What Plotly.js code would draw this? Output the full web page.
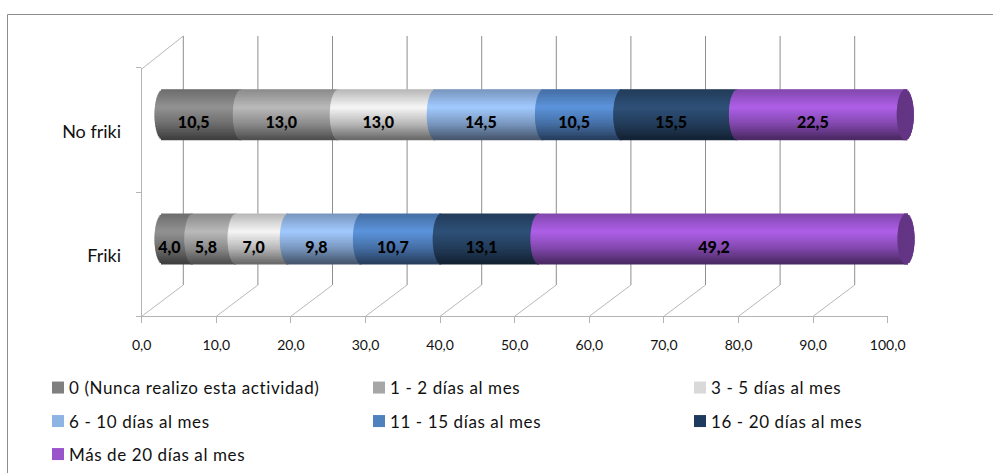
<!DOCTYPE html>
<html>
<head>
<meta charset="utf-8">
<script src="https://cdn.plot.ly/plotly-3.0.1.min.js"></script>
<style>html,body{margin:0;padding:0;background:#fff;}#chart{width:993px;height:473px;}
#chart .scrollbox text{letter-spacing:.6px !important;}
#chart .scrollbox{clip-path:none !important;}</style>
</head>
<body>
<div id="chart"></div>
<script>
// ---- data ----
var categories = ["Friki", "No friki"];
var seriesNames = ["0 (Nunca realizo esta actividad)", "1 - 2 días al mes", "3 - 5 días al mes",
                   "6 - 10 días al mes", "11 - 15 días al mes", "16 - 20 días al mes", "Más de 20 días al mes"];
var nunca   = [4.0, 10.5];
var d1a2    = [5.8, 13.0];
var d3a5    = [7.0, 13.0];
var d6a10   = [9.8, 14.5];
var d11a15  = [10.7, 10.5];
var d16a20  = [13.1, 15.5];
var mas20   = [49.2, 22.5];
var seriesValues = [nunca, d1a2, d3a5, d6a10, d11a15, d16a20, mas20];
var xTicks = [0, 10, 20, 30, 40, 50, 60, 70, 80, 90, 100];

// ---- style ----
var legendColors = ["#7f7f7f", "#a6a6a6", "#d9d9d9", "#8eb4e3", "#4f81bd", "#1f3a5f", "#9954cc"];
var peakColors = [[146,146,146], [186,186,186], [246,246,246], [162,202,255], [92,148,220], [46,80,120], [174,96,232]];
var capColor = "#643584";
var W = 993, H = 473;
var fontName = "Lato, Carlito, sans-serif";
var pxPerUnit = 7.46;
var axisLine = "#b4b4b4", gridLine = "#8e8e8e", diagLine = "#b8b8b8";
function fx(px) { return px / W; }
function fy(px) { return 1 - px / H; }

// cylinder shading as thin strips; each strip overlaps its neighbours by half a pixel
var N = 34, radiusPx = 25.5, unitY = 124.2;
var radius = (radiusPx - .5) / unitY, bandW = 2 * radius / N, drawnW = bandW + 1 / unitY;
var bowUnits = 8.5 / pxPerUnit;
function shade(t) {
  var s = [[0, .74], [.36, 1], [.7, .74], [1, .42]];
  for (var i = 1; i < s.length; i++) {
    if (t <= s[i][0]) {
      return s[i-1][1] + (s[i][1] - s[i-1][1]) * (t - s[i-1][0]) / (s[i][0] - s[i-1][0]);
    }
  }
  return .42;
}
function rgb(c, f) {
  return "rgb(" + c.map(function (v) { return Math.round(v * f); }).join(",") + ")";
}

var traces = [];
var starts = categories.map(function () { return 0; });
var cumul = [];
seriesValues.forEach(function (vals) {
  cumul.push(starts.slice());
  starts = starts.map(function (s, i) { return s + vals[i]; });
});
var totals = starts;

var legendIds = ["legend", "legend2", "legend3", "legend4", "legend5", "legend6", "legend7"];

// flat base bars (carry the legend)
seriesValues.forEach(function (vals, k) {
  traces.push({
    type: "bar", orientation: "h", xaxis: "x2", yaxis: "y2",
    name: seriesNames[k], legend: legendIds[k], showlegend: true,
    y: categories.map(function (c, i) { return i; }),
    x: vals, base: cumul[k], width: 2 * radius,
    marker: { color: legendColors[k], line: { width: 0 } },
    hoverinfo: "skip"
  });
});

// shading strips
seriesValues.forEach(function (vals, k) {
  var ys = [], xs = [], bs = [], cs = [];
  categories.forEach(function (c, i) {
    for (var b = 0; b < N; b++) {
      var yOff = radius - (b + .5) * bandW;
      var t = (b + .5) / N;
      var bow = bowUnits * Math.sqrt(1 - Math.pow(2 * t - 1, 2));
      ys.push(i + yOff);
      bs.push(cumul[k][i] - bow);
      xs.push(vals[i] + bow + (k === seriesValues.length - 1 ? bow : 0));
      cs.push(rgb(peakColors[k], shade(t)));
    }
  });
  traces.push({
    type: "bar", orientation: "h", xaxis: "x2", yaxis: "y2", showlegend: false,
    y: ys, x: xs, base: bs, width: drawnW,
    marker: { color: cs, line: { width: 0 } }, hoverinfo: "skip"
  });
});

// right end cap
(function () {
  var ys = [], xs = [], bs = [];
  categories.forEach(function (c, i) {
    for (var b = 0; b < N; b++) {
      var t = (b + .5) / N;
      var bow = bowUnits * Math.sqrt(1 - Math.pow(2 * t - 1, 2));
      ys.push(i + radius - (b + .5) * bandW);
      bs.push(totals[i] - bow);
      xs.push(2 * bow);
    }
  });
  traces.push({
    type: "bar", orientation: "h", xaxis: "x2", yaxis: "y2", showlegend: false,
    y: ys, x: xs, base: bs, width: drawnW,
    marker: { color: capColor, line: { width: 0 } }, hoverinfo: "skip"
  });
})();

// data labels, on top of everything
(function () {
  var ys = [], xs = [], bs = [], txt = [];
  seriesValues.forEach(function (vals, k) {
    categories.forEach(function (c, i) {
      ys.push(i - 7 / unitY);
      bs.push(cumul[k][i] - bowUnits);
      xs.push(vals[i]);
      txt.push(vals[i].toFixed(1).replace(".", ","));
    });
  });
  traces.push({
    type: "bar", orientation: "h", xaxis: "x2", yaxis: "y2", showlegend: false,
    y: ys, x: xs, base: bs, width: .2,
    text: txt, textposition: "inside", insidetextanchor: "middle", textangle: 0,
    constraintext: "none", cliponaxis: false,
    textfont: { family: fontName, size: 16, color: "#000", weight: 900 },
    marker: { color: "rgba(0,0,0,0)", line: { width: 0 } }, hoverinfo: "skip"
  });
})();

// walls: gridlines on the back plane and diagonals along the floor
var backDx = 41.6 / pxPerUnit;
var frontY = 316.3, backY = 285, wallTop = 36, frontTop = 69;
var shapes = [
  { type: "line", xref: "paper", yref: "paper", x0: fx(7.5), x1: 1, y0: fy(14.5), y1: fy(14.5), line: { color: "#8c8c8c", width: 1 } },
  { type: "line", xref: "paper", yref: "paper", x0: fx(7.5), x1: fx(7.5), y0: fy(14.5), y1: 0, line: { color: "#8c8c8c", width: 1 } },
  { type: "line", xref: "x", yref: "paper", x0: 0, x1: backDx, y0: fy(frontTop), y1: fy(wallTop), line: { color: diagLine, width: 1 }, layer: "below" }
];
xTicks.forEach(function (v) {
  shapes.push({ type: "line", xref: "x", yref: "paper", x0: v + backDx, x1: v + backDx, y0: fy(backY), y1: fy(wallTop), line: { color: gridLine, width: 1 }, layer: "below" });
  shapes.push({ type: "line", xref: "x", yref: "paper", x0: v, x1: v + backDx, y0: fy(frontY), y1: fy(backY), line: { color: diagLine, width: 1 }, layer: "below" });
});

function legendAt(textXPx, yPx) {
  return {
    orientation: "h", x: fx(textXPx - 40), xanchor: "left", y: fy(yPx), yanchor: "middle",
    traceorder: "normal", bgcolor: "rgba(0,0,0,0)", borderwidth: 0,
    font: { family: fontName, size: 17, color: "#111" }
  };
}

var xPad = 5; // extra room on the bar axis for the rounded ends
var layout = {
  width: W, height: H, margin: { l: 0, r: 0, t: 0, b: 0, pad: 0 },
  paper_bgcolor: "#fff", plot_bgcolor: "rgba(0,0,0,0)",
  barmode: "overlay", separators: ",.", hovermode: false, showlegend: true,
  font: { family: fontName, color: "#111" },
  xaxis: {
    domain: [fx(141.7), fx(887.7)], range: [0, 100], anchor: "y", showgrid: false, zeroline: false,
    tickmode: "array", tickvals: xTicks, tickformat: ".1f",
    showline: true, linecolor: axisLine, linewidth: 1,
    ticks: "outside", ticklen: 6, tickcolor: axisLine, ticklabelstandoff: 10,
    tickfont: { family: fontName, size: 14, color: "#111" }
  },
  yaxis: {
    domain: [fy(frontY), fy(frontY - 2 * unitY)], range: [-.5, 1.5], anchor: "x", showgrid: false, zeroline: false,
    tickmode: "array", tickvals: [-.01, .99], ticktext: categories, ticks: "", ticklabelstandoff: 16,
    minor: { tickmode: "array", tickvals: [-.5, .5, 1.5], ticks: "outside", ticklen: 5, tickcolor: axisLine, showgrid: false },
    showline: true, linecolor: axisLine, linewidth: 1,
    tickfont: { family: fontName, size: 18, color: "#111" }
  },
  xaxis2: { domain: [fx(163 - xPad * pxPerUnit), fx(163 + (100 + xPad) * pxPerUnit)], range: [-xPad, 100 + xPad], anchor: "y2", visible: false },
  yaxis2: { domain: [fy(301.1), fy(301.1 - 2 * unitY)], range: [-.5, 1.5], anchor: "x2", visible: false },
  legend:  legendAt(69, 388),
  legend2: legendAt(390, 388),
  legend3: legendAt(711, 388),
  legend4: legendAt(69, 421.5),
  legend5: legendAt(390, 421.5),
  legend6: legendAt(711, 421.5),
  legend7: legendAt(69, 454.5),
  shapes: shapes
};

Plotly.newPlot("chart", traces, layout, { displayModeBar: false, staticPlot: true }).then(function () {
  document.querySelectorAll("#chart .legendsymbols").forEach(function (g) {
    g.setAttribute("transform", "translate(9,0)");
  });
});
</script>
</body>
</html>
